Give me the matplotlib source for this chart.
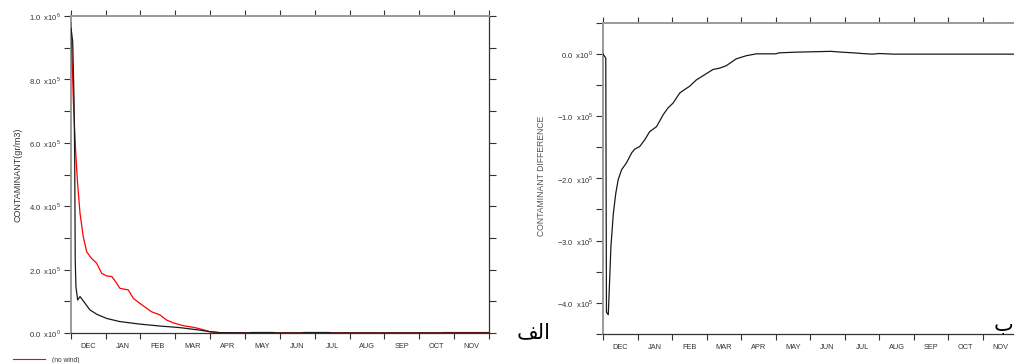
import math
import matplotlib
matplotlib.use("Agg")
import matplotlib.pyplot as plt
from matplotlib.lines import Line2D
from matplotlib.ticker import FixedLocator, FuncFormatter, NullFormatter

plt.rcParams['font.family'] = ['Liberation Sans', 'DejaVu Sans']
plt.rcParams['mathtext.fontset'] = 'custom'
plt.rcParams['mathtext.rm'] = 'Liberation Sans'

# ---------------- data (x in months since start of DEC) ----------------
months = ["DEC", "JAN", "FEB", "MAR", "APR", "MAY", "JUN", "JUL", "AUG", "SEP", "OCT", "NOV"]

red_x = [0.0, 0.03, 0.075, 0.14, 0.19, 0.267, 0.36, 0.46, 0.60, 0.746, 0.89, 1.03, 1.18, 1.32,
         1.41, 1.65, 1.80, 1.99, 2.18, 2.32, 2.56, 2.75, 2.94, 3.23, 3.52, 3.71, 4.0, 4.28, 4.6,
         10.6, 10.7, 12.0]
red_y = [980e3, 900e3, 735e3, 577e3, 483e3, 378e3, 304e3, 256e3, 235e3, 220e3, 188e3, 180e3,
         178e3, 157e3, 141e3, 136e3, 109e3, 93e3, 78e3, 67e3, 57e3, 41e3, 32e3, 23e3, 18e3,
         13e3, 4e3, 1e3, 0.5e3, 0.5e3, 1.5e3, 1.5e3]

black_x = [0.01, 0.057, 0.095, 0.114, 0.13, 0.15, 0.20, 0.267, 0.41, 0.55, 0.75, 1.03, 1.41,
           1.99, 2.56, 3.13, 3.71, 4.0, 4.3, 5.1, 5.2, 5.8, 5.9, 6.6, 6.7, 7.4, 7.5, 12.0]
black_y = [961e3, 920e3, 740e3, 560e3, 230e3, 146e3, 104e3, 115e3, 94e3, 73e3, 59e3, 46e3,
           36e3, 28e3, 22e3, 17e3, 9e3, 4e3, 1e3, 0.5e3, 1.5e3, 1.5e3, 0.3e3, 0.3e3, 1.5e3,
           1.5e3, 0.3e3, 0.3e3]

diff_x = [0.0, 0.08, 0.10, 0.153, 0.17, 0.23, 0.30, 0.37, 0.44, 0.54, 0.68, 0.83, 0.92, 1.06,
          1.21, 1.35, 1.55, 1.74, 1.88, 2.03, 2.22, 2.32, 2.51, 2.70, 2.90, 3.19, 3.38, 3.57,
          3.86, 4.15, 4.44, 5.0, 5.1, 5.6, 6.6, 6.9, 7.25, 7.5, 7.8, 8.0, 8.4, 12.0]
diff_y = [0.0, -0.07e5, -4.15e5, -4.19e5, -3.95e5, -3.09e5, -2.56e5, -2.24e5, -2.02e5, -1.86e5,
          -1.75e5, -1.59e5, -1.53e5, -1.49e5, -1.38e5, -1.25e5, -1.17e5, -0.98e5, -0.87e5,
          -0.79e5, -0.63e5, -0.59e5, -0.52e5, -0.42e5, -0.35e5, -0.25e5, -0.23e5, -0.19e5,
          -0.08e5, -0.03e5, 0.0, 0.0, 0.016e5, 0.027e5, 0.04e5, 0.027e5, 0.016e5, 0.005e5,
          -0.005e5, 0.005e5, -0.005e5, -0.005e5]

left_label = "CONTAMINANT(gr/m3)"
right_label = "CONTAMINANT DIFFERENCE"
legend_label = "(no wind)"
# Persian panel letters, written in visual order with presentation forms
alef_label = "\uFED2\uFEDF\uFE8D"   # الف
beh_label = "\uFE8F"                # ب

# ---------------- figure ----------------
fig = plt.figure(figsize=(10.14, 3.63), dpi=100)

TXT = '#333333'


def sci_fmt(v, pos=None):
    if abs(v) < 1e-9:
        return "0.0  x10$^{0}$"
    e = int(math.floor(math.log10(abs(v)) + 1e-9))
    m = v / 10 ** e
    s = f"{abs(m):.1f}  x10$^{{{e}}}$"
    return ("\u2212" + s) if v < 0 else s


def style_axes(ax, ymin, ymax, ystep, ylabstep):
    ax.set_xlim(0, 12)
    ax.set_ylim(ymin, ymax)
    ax.xaxis.set_major_locator(FixedLocator(list(range(13))))
    ax.xaxis.set_major_formatter(NullFormatter())
    ax.xaxis.set_minor_locator(FixedLocator([i + 0.5 for i in range(12)]))
    ax.xaxis.set_minor_formatter(FuncFormatter(lambda v, p: months[int(v)]))
    ax.tick_params(axis='x', which='major', direction='out', length=4, width=0.8,
                   colors='#333333', top=True, bottom=True)
    ax.tick_params(axis='x', which='minor', length=0, pad=7, labelsize=5.3, labelcolor=TXT)
    n = int(round((ymax - ymin) / ystep))
    yt = [ymin + i * ystep for i in range(n + 1)]
    ax.yaxis.set_major_locator(FixedLocator(yt))
    ax.yaxis.set_major_formatter(FuncFormatter(
        lambda v, p: sci_fmt(v) if abs(round(v / ylabstep) * ylabstep - v) < ystep * 0.01 else ""))
    ax.tick_params(axis='y', which='major', direction='out', length=5, width=0.8, pad=2,
                   colors='#333333', labelsize=5.5, left=True, right=True)
    for s in ['left', 'top']:
        ax.spines[s].set_color('#9a9a9a')
        ax.spines[s].set_linewidth(1.4)
    for s in ['right', 'bottom']:
        ax.spines[s].set_color('#333333')
        ax.spines[s].set_linewidth(0.9)


# left panel
ax1 = fig.add_axes([70.7 / 1014, 1 - 333 / 363, (489 - 70.7) / 1014, (333 - 16) / 363])
red_line, = ax1.plot(red_x, red_y, color='#ff0000', lw=0.9, zorder=3)
ax1.plot(black_x, black_y, color='#1a1a1a', lw=0.9, zorder=3)
style_axes(ax1, 0, 1.0e6, 1e5, 2e5)

# right panel (extends past the right edge of the image)
ax2 = fig.add_axes([603 / 1014, 1 - 334 / 363, (1017.5 - 603) / 1014, (334 - 22.7) / 363])
ax2.plot(diff_x, diff_y, color='#1a1a1a', lw=0.9, zorder=3)
style_axes(ax2, -4.5e5, 0.5e5, 0.5e5, 1e5)

# axis titles
fig.text(18 / 1014, 1 - 175 / 363, left_label, rotation=90, ha='center', va='center',
         fontsize=6.5, color=TXT)
fig.text(541 / 1014, 1 - 176 / 363, right_label, rotation=90, ha='center', va='center',
         fontsize=6.2, color='#555555')

# legend entry at bottom-left
fig.add_artist(Line2D([13 / 1014, 45 / 1014], [1 - 359 / 363] * 2, color='#ff0000', lw=0.8,
                      transform=fig.transFigure))
fig.text(52 / 1014, 1 - 360.5 / 363, legend_label, ha='left', va='center', fontsize=4.8, color=TXT)

# panel letters
fig.text(517 / 1014, 1 - 338 / 363, alef_label, ha='left', va='baseline', fontsize=15,
         family='DejaVu Sans', color='black')
fig.text(994 / 1014, 1 - 330 / 363, beh_label, ha='left', va='baseline', fontsize=15,
         family='DejaVu Sans', color='black')

fig.savefig("out.png", dpi=100)
